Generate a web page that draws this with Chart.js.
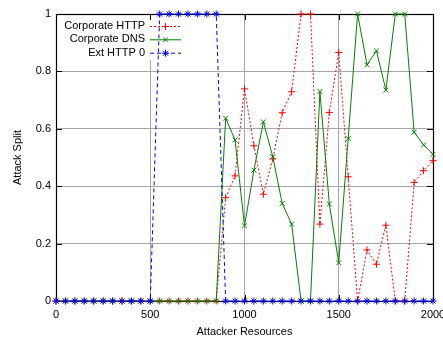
<!DOCTYPE html>
<html>
<head>
<meta charset="utf-8">
<script src="https://cdn.jsdelivr.net/npm/chart.js@4/dist/chart.umd.min.js"></script>
<style>
  html, body { margin: 0; padding: 0; background: #fff; }
  #wrap { width: 443px; height: 338px; }
</style>
</head>
<body>
<div id="wrap"><canvas id="c" width="443" height="338"></canvas></div>
<script>
// Attacker resources (x), sampled every 50 units
const resources = [
  0, 50, 100, 150, 200, 250, 300, 350, 400, 450,
  500, 550, 600, 650, 700, 750, 800, 850, 900, 950,
  1000, 1050, 1100, 1150, 1200, 1250, 1300, 1350, 1400, 1450,
  1500, 1550, 1600, 1650, 1700, 1750, 1800, 1850, 1900, 1950, 2000
];

// Share of the attack aimed at each target
const corporateHttp = [
  0, 0, 0, 0, 0, 0, 0, 0, 0, 0,
  0, 0, 0, 0, 0, 0, 0, 0, 0.36, 0.436,
  0.739, 0.541, 0.372, 0.495, 0.656, 0.729, 1, 1, 0.268, 0.657,
  0.866, 0.433, 0, 0.178, 0.128, 0.264, 0, 0, 0.413, 0.454, 0.489
];
const corporateDns = [
  0, 0, 0, 0, 0, 0, 0, 0, 0, 0,
  0, 0, 0, 0, 0, 0, 0, 0, 0.637, 0.561,
  0.262, 0.456, 0.624, 0.503, 0.34, 0.268, 0, 0, 0.73, 0.338,
  0.133, 0.566, 1, 0.823, 0.872, 0.735, 1, 1, 0.588, 0.544, 0.511
];
const extHttp0 = [
  0, 0, 0, 0, 0, 0, 0, 0, 0, 0,
  0, 1, 1, 1, 1, 1, 1, 1, 0, 0,
  0, 0, 0, 0, 0, 0, 0, 0, 0, 0,
  0, 0, 0, 0, 0, 0, 0, 0, 0, 0, 0
];

const seriesNames = ['Corporate HTTP', 'Corporate DNS', 'Ext HTTP 0'];
const xTicks = [0, 500, 1000, 1500, 2000];
const yTicks = [0, 0.2, 0.4, 0.6, 0.8, 1];

const FONT = { family: '"Liberation Sans", Arial, sans-serif', size: 11 };
const GRID = '#a6a6a6';

const pts = ys => resources.map((x, i) => ({ x: x, y: ys[i] }));

const styles = [
  { color: '#ff0000', dash: [2, 2], point: 'cross' },
  { color: '#008000', dash: [], point: 'crossRot' },
  { color: '#0000ff', dash: [4, 3], point: 'star' }
];

const datasets = [corporateHttp, corporateDns, extHttp0].map((ys, i) => ({
  label: seriesNames[i],
  data: pts(ys),
  borderColor: styles[i].color,
  backgroundColor: styles[i].color,
  borderWidth: 1,
  borderDash: styles[i].dash,
  pointStyle: styles[i].point,
  pointRadius: 3.5,
  pointBorderWidth: 1,
  pointBorderColor: styles[i].color,
  tension: 0,
  clip: false,
  order: 3 - i
}));

// Frame, inward tick marks and a cleared key area, drawn beneath the series
const framePlugin = {
  id: 'frame',
  beforeDatasetsDraw(chart) {
    const { ctx, chartArea: a, scales } = chart;
    ctx.save();
    // key area is kept free of grid lines
    ctx.fillStyle = '#fff';
    ctx.fillRect(a.left + 1, a.top + 6, 130, 40);
    ctx.strokeStyle = '#000';
    ctx.lineWidth = 1;
    ctx.setLineDash([]);
    ctx.beginPath();
    const tl = 6;
    xTicks.forEach(v => {
      const x = Math.round(scales.x.getPixelForValue(v)) + 0.5;
      ctx.moveTo(x, a.bottom); ctx.lineTo(x, a.bottom - tl);
      ctx.moveTo(x, a.top); ctx.lineTo(x, a.top + tl);
    });
    yTicks.forEach(v => {
      const y = Math.round(scales.y.getPixelForValue(v)) + 0.5;
      ctx.moveTo(a.left, y); ctx.lineTo(a.left + tl, y);
      ctx.moveTo(a.right, y); ctx.lineTo(a.right - tl, y);
    });
    ctx.stroke();
    ctx.lineWidth = 1.2;
    ctx.strokeRect(Math.round(a.left) + 0.5, Math.round(a.top) + 0.5,
                   Math.round(a.right - a.left), Math.round(a.bottom - a.top));
    ctx.restore();
  }
};

// Key in the upper-left corner of the plot
const keyPlugin = {
  id: 'key',
  afterDatasetsDraw(chart) {
    const { ctx } = chart;
    const textRight = 145, lineL = 150, lineR = 181, markX = 165.5;
    const rows = [26, 39.3, 52.7];
    ctx.save();
    ctx.font = `${FONT.size}px ${FONT.family}`;
    ctx.textAlign = 'right';
    ctx.textBaseline = 'middle';
    chart.data.datasets.forEach((ds, i) => {
      const y = rows[i];
      ctx.fillStyle = '#000';
      ctx.fillText(ds.label, textRight, y);
      ctx.strokeStyle = ds.borderColor;
      ctx.lineWidth = 1;
      ctx.setLineDash(ds.borderDash);
      ctx.beginPath();
      ctx.moveTo(lineL, y + 0.5);
      ctx.lineTo(lineR, y + 0.5);
      ctx.stroke();
      ctx.setLineDash([]);
      Chart.helpers.drawPoint(ctx, {
        pointStyle: ds.pointStyle, radius: 3.5, borderWidth: 1, rotation: 0
      }, markX, y + 0.5);
    });
    ctx.restore();
  }
};

new Chart(document.getElementById('c'), {
  type: 'line',
  data: { datasets: datasets },
  options: {
    responsive: false,
    animation: false,
    layout: { padding: { top: 14, right: 10, left: 0, bottom: 0 } },
    plugins: { legend: { display: false }, tooltip: { enabled: false } },
    scales: {
      x: {
        type: 'linear',
        min: 0, max: 2000,
        afterBuildTicks: s => { s.ticks = xTicks.map(v => ({ value: v })); },
        afterFit: s => { s.height = 37; s.paddingLeft = 0; s.paddingRight = 0; },
        ticks: { color: '#000', font: FONT, padding: 7, maxRotation: 0, autoSkip: false,
                 callback: v => String(v) },
        grid: {
          drawTicks: false,
          color: c => (c.tick && (c.tick.value === 0 || c.tick.value === 2000)) ? 'rgba(0,0,0,0)' : GRID,
          lineWidth: 1
        },
        border: { display: false },
        title: { display: true, text: 'Attacker Resources', color: '#000', font: FONT, padding: { top: 0, bottom: -1 } }
      },
      y: {
        type: 'linear',
        min: 0, max: 1,
        afterBuildTicks: s => { s.ticks = yTicks.map(v => ({ value: v })); },
        afterFit: s => { s.width = 56; s.paddingTop = 0; s.paddingBottom = 0; },
        ticks: { color: '#000', font: FONT, padding: 5, autoSkip: false,
                 callback: v => String(Math.round(v * 10) / 10) },
        grid: {
          drawTicks: false,
          color: c => (c.tick && (c.tick.value === 0 || c.tick.value === 1)) ? 'rgba(0,0,0,0)' : GRID,
          lineWidth: 1
        },
        border: { display: false },
        title: { display: true, text: 'Attack Split', color: '#000', font: FONT, padding: { top: 11, bottom: 0 } }
      }
    }
  },
  plugins: [framePlugin, keyPlugin]
});
</script>
</body>
</html>
